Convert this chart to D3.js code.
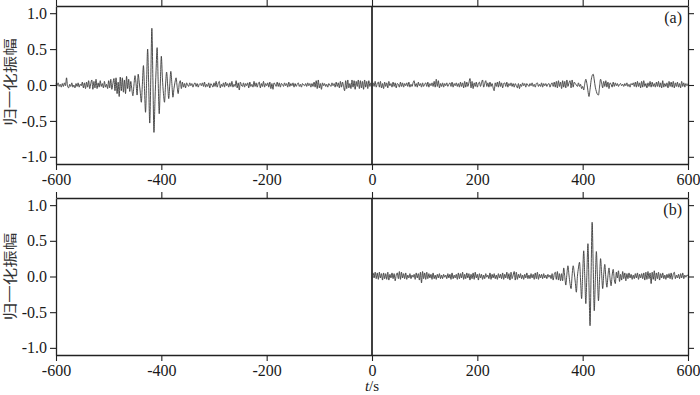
<!DOCTYPE html>
<html><head><meta charset="utf-8">
<script src="https://cdn.jsdelivr.net/npm/d3@7"></script>
<style>
body{margin:0;background:#fff}svg{display:block}
.serif{font-family:"Liberation Serif","Times New Roman","DejaVu Serif",serif !important}
.cjk{font-family:"Noto Sans CJK SC","Noto Sans",sans-serif}
</style>
</head><body><svg id="c" width="700" height="395"></svg>
<script>
const xTicks = [-600, -400, -200, 0, 200, 400, 600];
const yTicks = [-1.0, -0.5, 0.0, 0.5, 1.0];
const panelLabels = ["(a)", "(b)"];
const yLabel = "归一化振幅";
const xLabelItalic = "t", xLabelRest = "/s";
const sampleStep = 2;
const startA = -600, startB = 0;
const valuesA = [
0.02,-0.01,0.03,-0.02,0.01,-0.03,0.02,-0.02,0.03,-0.01,
0.10,-0.02,-0.04,0.01,-0.02,0.03,-0.03,0.00,-0.04,0.02,
-0.02,0.03,-0.03,0.01,-0.01,0.04,-0.04,0.03,-0.05,0.04,
-0.03,0.06,-0.05,0.02,0.07,-0.06,0.05,-0.04,0.08,-0.05,
0.03,-0.03,0.06,-0.02,0.02,-0.04,0.05,-0.03,0.01,-0.05,
0.06,-0.04,0.08,-0.06,0.02,0.09,-0.08,0.10,-0.12,0.04,
-0.16,0.11,-0.08,0.10,-0.10,0.07,-0.12,0.12,-0.05,0.08,
-0.09,0.05,-0.06,-0.15,0.00,0.13,0.02,-0.14,0.15,0.04,
-0.10,-0.24,0.01,0.27,-0.05,-0.38,0.05,0.50,0.00,-0.53,
0.10,0.79,0.06,-0.66,-0.20,0.20,0.52,0.05,-0.40,0.00,
0.40,0.10,-0.12,-0.24,0.00,0.18,0.00,-0.19,0.00,0.19,
0.02,-0.17,-0.05,0.04,0.10,-0.02,-0.12,0.02,0.06,-0.05,
0.04,-0.03,0.02,-0.04,0.03,0.00,-0.02,0.03,-0.01,0.02,
-0.03,0.01,0.03,-0.02,0.02,-0.03,0.01,0.02,-0.01,0.03,
-0.02,0.04,-0.03,0.01,-0.02,0.03,-0.04,0.02,0.00,-0.03,
0.03,-0.02,0.05,-0.03,0.02,0.05,-0.04,0.01,-0.02,0.03,
-0.03,0.04,-0.01,0.02,-0.03,0.03,-0.02,0.05,-0.03,0.01,
-0.02,0.06,-0.04,0.03,-0.07,0.04,0.00,-0.02,0.03,-0.03,
0.02,-0.01,0.03,-0.04,0.04,-0.02,0.01,-0.03,0.05,-0.02,
0.03,-0.03,0.02,0.04,-0.04,0.02,-0.02,0.05,-0.03,0.02,
-0.01,0.03,-0.03,0.04,-0.05,0.02,-0.06,0.03,0.01,-0.02,
0.04,-0.02,0.03,-0.03,0.02,0.01,-0.02,0.03,-0.01,0.02,
-0.03,0.04,-0.02,0.02,-0.01,0.03,-0.03,0.02,-0.02,0.01,
0.03,-0.02,0.01,-0.03,0.02,0.00,-0.01,0.02,-0.02,0.03,
-0.01,0.02,-0.03,0.02,-0.02,0.04,-0.03,0.06,-0.05,0.07,
-0.04,0.02,-0.06,0.03,-0.01,0.02,-0.02,0.01,-0.03,0.02,
0.00,-0.02,0.03,-0.01,0.02,-0.03,0.04,-0.02,0.03,-0.04,
0.05,-0.03,0.04,-0.02,-0.08,0.06,-0.05,0.07,-0.04,0.02,
-0.05,0.07,-0.03,0.06,-0.06,0.05,-0.02,0.07,-0.05,0.06,
-0.04,0.05,-0.06,0.07,-0.03,0.05,-0.05,0.06,-0.02,0.03,
-0.06,0.03,-0.02,0.05,-0.03,0.02,0.04,-0.03,0.05,-0.04,
0.02,-0.05,0.04,-0.02,0.03,-0.04,0.05,-0.01,0.02,-0.03,
0.04,-0.02,0.03,-0.04,0.02,0.01,-0.03,0.04,-0.02,0.03,
-0.03,0.02,-0.01,0.03,-0.02,0.04,-0.03,0.01,-0.02,0.03,
0.06,-0.02,0.02,-0.03,0.04,-0.01,0.02,-0.03,0.03,-0.02,
0.01,0.03,-0.02,0.04,-0.03,0.02,-0.01,0.03,-0.02,0.05,
-0.03,0.08,-0.02,0.06,-0.04,0.02,-0.02,0.03,-0.03,0.02,
-0.01,0.03,-0.02,0.01,0.03,-0.02,0.04,-0.03,0.02,-0.01,
0.03,-0.02,0.02,-0.03,0.04,-0.02,0.03,-0.04,0.05,-0.03,
0.04,-0.02,0.03,0.09,-0.04,0.05,-0.05,0.03,-0.02,0.04,
-0.03,0.02,0.04,-0.02,0.03,0.07,-0.03,0.02,0.06,-0.02,
0.03,-0.03,0.04,-0.02,0.02,-0.04,-0.08,0.03,-0.02,0.04,
-0.03,0.05,-0.02,0.03,-0.04,0.02,0.03,-0.02,0.04,-0.03,
0.02,-0.01,0.03,-0.02,0.02,-0.03,0.02,-0.01,-0.04,0.02,
-0.05,0.01,-0.02,0.03,-0.01,0.02,-0.03,0.02,0.00,-0.02,
0.02,-0.01,0.03,-0.02,0.01,-0.03,0.02,0.03,-0.02,0.01,
-0.02,0.03,-0.03,0.02,-0.01,0.02,-0.02,0.01,0.02,-0.03,
0.01,0.03,-0.02,0.04,-0.03,0.05,-0.04,0.06,-0.02,0.04,
-0.05,0.06,-0.03,0.05,-0.04,0.07,-0.02,0.03,0.06,-0.04,
0.07,-0.03,0.04,0.02,0.00,-0.02,0.03,-0.02,0.01,-0.05,
-0.02,-0.07,0.02,0.08,0.02,-0.08,-0.16,-0.06,0.06,0.13,
0.15,0.07,-0.03,-0.09,-0.13,-0.14,-0.03,0.08,0.03,-0.04,
0.05,-0.02,0.06,-0.03,0.04,-0.05,0.03,0.01,-0.03,0.04,
-0.02,0.03,-0.01,0.02,-0.02,0.01,0.02,-0.01,0.01,-0.02,
0.02,-0.01,0.03,-0.02,0.01,-0.03,0.02,0.00,0.03,-0.02,
0.04,-0.03,0.05,-0.02,0.03,-0.04,0.05,-0.03,0.06,-0.02,
0.02,-0.04,0.03,-0.02,0.05,-0.03,0.04,-0.02,0.02,-0.03,
0.04,-0.02,0.05,-0.03,0.03,-0.04,0.06,-0.03,0.02,-0.02,
0.03,-0.04,0.05,-0.02,0.04,-0.03,0.05,-0.04,0.03,-0.02,
0.04,-0.03,0.02,-0.04,0.05,-0.02,0.03,-0.03,0.02,-0.01,
0.02
];
const valuesB = [
-0.04,0.05,-0.02,0.06,-0.03,0.05,-0.04,0.06,-0.02,0.04,
-0.05,0.05,-0.03,0.04,-0.04,0.06,-0.05,0.03,-0.02,0.05,
-0.03,0.04,-0.06,0.02,0.05,-0.03,0.07,-0.04,0.06,-0.02,
0.04,-0.03,0.05,-0.04,0.02,-0.02,0.04,-0.03,0.02,-0.01,
0.03,-0.04,0.05,-0.02,0.04,-0.05,0.06,-0.09,0.07,-0.03,
0.05,-0.04,0.06,-0.03,0.04,-0.02,0.03,-0.04,0.05,-0.03,
0.02,-0.04,0.03,-0.02,0.04,-0.03,0.02,-0.03,0.03,-0.01,
0.02,-0.03,0.04,-0.02,0.03,-0.04,0.05,-0.03,0.02,-0.02,
0.03,-0.04,0.05,-0.03,0.04,-0.02,0.06,-0.04,0.03,-0.03,
0.05,-0.02,0.04,-0.05,0.03,-0.03,0.05,-0.04,0.06,-0.02,
0.03,-0.05,0.04,-0.02,0.03,-0.04,0.02,-0.03,0.04,-0.01,
0.02,-0.03,0.05,-0.04,0.03,-0.02,0.04,-0.03,0.02,-0.04,
0.04,-0.02,0.03,-0.03,0.05,-0.04,0.03,-0.02,0.06,-0.03,
0.04,-0.05,0.06,-0.03,0.02,0.07,-0.05,0.06,-0.04,0.03,
-0.02,0.04,-0.03,0.02,-0.04,0.03,-0.02,0.05,-0.03,0.02,
-0.03,0.04,-0.02,0.03,-0.04,0.05,-0.03,0.06,-0.04,0.03,
-0.02,0.03,-0.03,0.04,-0.02,0.02,-0.03,0.03,-0.01,0.02,
-0.03,0.04,-0.05,0.03,0.06,-0.04,0.07,-0.05,0.04,-0.06,
0.04,-0.06,0.12,0.00,-0.12,0.03,0.15,0.02,-0.10,-0.17,
0.02,0.15,0.05,-0.08,-0.22,0.00,0.12,0.20,-0.05,-0.31,
0.03,0.36,-0.01,-0.38,0.04,0.46,-0.12,-0.69,0.04,0.76,
0.14,-0.48,-0.06,0.35,0.00,-0.34,-0.04,0.25,0.04,-0.17,
0.03,0.17,-0.02,-0.15,0.01,0.12,-0.03,-0.13,0.02,0.10,
-0.04,-0.10,0.06,-0.02,0.08,-0.07,0.03,-0.05,0.07,-0.03,
0.05,-0.06,0.04,-0.03,0.05,-0.02,0.03,-0.04,0.02,-0.03,
0.04,-0.02,0.05,-0.04,0.03,-0.02,0.04,-0.03,0.05,-0.05,
0.06,-0.04,0.07,-0.03,0.05,-0.10,0.06,-0.04,0.08,-0.06,
0.05,-0.03,0.06,-0.05,0.04,-0.02,0.05,-0.03,0.02,-0.04,
0.03,-0.02,0.04,-0.03,0.05,-0.04,0.03,0.06,-0.03,0.02,
-0.02,0.03,-0.03,0.04,-0.02,0.05,-0.03,0.02,-0.01,0.02,
0.01
];

const svg = d3.select("#c");
const left = 56, right = 688;
const x = d3.scaleLinear().domain([-600, 600]).range([left, right]);

const panels = [
  {top: 6, bottom: 164, start: startA, values: valuesA, label: panelLabels[0]},
  {top: 198, bottom: 355, start: startB, values: valuesB, label: panelLabels[1]}
];

function styleAxis(g) {
  g.attr("font-family", null).attr("font-size", null);
  g.select(".domain").attr("stroke", "#222").attr("stroke-width", 1.3);
  g.selectAll(".tick line").attr("stroke", "#222").attr("stroke-width", 1.1);
  g.selectAll("text").attr("class", "serif").style("font-size", "16px").attr("fill", "#1a1a1a");
}

panels.forEach((p, k) => {
  const y = d3.scaleLinear().domain([-1.1, 1.1]).range([p.bottom, p.top]);

  svg.append("line")
    .attr("x1", x(0)).attr("x2", x(0)).attr("y1", p.top).attr("y2", p.bottom)
    .attr("stroke", "#000").attr("stroke-width", 1.5);

  const times = p.values.map((v, i) => p.start + i * sampleStep);
  const line = d3.line()
    .x((d, i) => x(times[i]))
    .y(d => y(d))
    .curve(d3.curveMonotoneX);
  svg.append("path").datum(p.values)
    .attr("d", line).attr("fill", "none")
    .attr("stroke", "#3a3a3a").attr("stroke-width", 0.9);

  svg.append("g").attr("transform", `translate(0,${p.bottom})`)
    .call(d3.axisBottom(x).tickValues(xTicks).tickSize(6).tickSizeOuter(0).tickPadding(3.5).tickFormat(d => String(d)))
    .call(styleAxis);
  svg.append("g").attr("transform", `translate(0,${p.top})`)
    .call(d3.axisTop(x).tickValues(xTicks).tickSize(6).tickSizeOuter(0).tickFormat(""))
    .call(styleAxis);
  svg.append("g").attr("transform", `translate(${left},0)`)
    .call(d3.axisLeft(y).tickValues(yTicks).tickSize(6).tickSizeOuter(0).tickPadding(3).tickFormat(d => d.toFixed(1)))
    .call(styleAxis);
  svg.append("g").attr("transform", `translate(${right},0)`)
    .call(d3.axisRight(y).tickValues(yTicks).tickSize(6).tickSizeOuter(0).tickFormat(""))
    .call(styleAxis);

  svg.append("text").attr("class", "serif").attr("x", 682).attr("y", p.top + 17)
    .attr("text-anchor", "end").style("font-size", "16px")
    .attr("fill", "#1a1a1a").text(p.label);

  const cy = (p.top + p.bottom) / 2 - (k === 0 ? 3 : 0);
  svg.append("text").attr("class", "cjk")
    .attr("transform", `translate(15,${cy}) rotate(-90) scale(1,0.75)`)
    .attr("text-anchor", "middle").style("font-size", "17.5px")
    .attr("fill", "#333").text(yLabel);
});

const xt = svg.append("text").attr("class", "serif").attr("x", x(0)).attr("y", 391)
  .attr("text-anchor", "middle").style("font-size", "15px").attr("fill", "#1a1a1a");
xt.append("tspan").attr("font-style", "italic").text(xLabelItalic);
xt.append("tspan").text(xLabelRest);
</script>
</body></html>
